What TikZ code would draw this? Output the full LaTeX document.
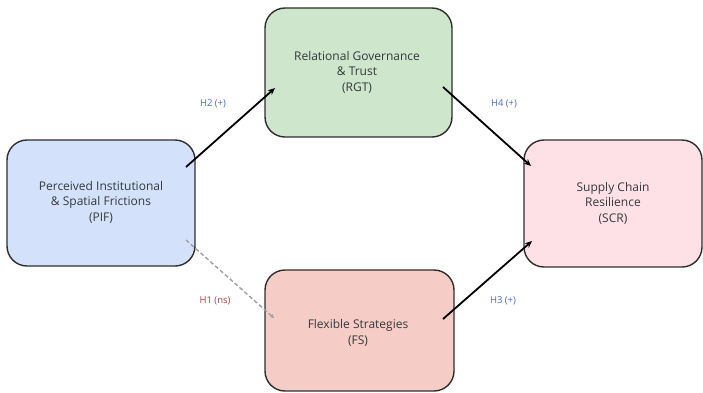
\documentclass[tikz,border=0pt]{standalone}
\usepackage{fontspec}
\setmainfont{Open Sans}
\usetikzlibrary{arrows.meta}
\definecolor{pifc}{HTML}{D3E2FA}
\definecolor{rgtc}{HTML}{CDE6CC}
\definecolor{scrc}{HTML}{FDE1E7}
\definecolor{fsc}{HTML}{F6CDC6}
\definecolor{edgec}{HTML}{2E2E2E}
\definecolor{txtc}{HTML}{35383B}
\definecolor{bluel}{HTML}{4A6DBF}
\definecolor{redl}{HTML}{B0443C}
\begin{document}
\begin{tikzpicture}[x=1pt,y=-1pt,
  box/.style={draw=edgec,line width=1.4pt,rounded corners=20pt},
  boxtext/.style={text=txtc,font=\fontsize{12}{15.5}\selectfont,align=center},
  arr/.style={-{Stealth[length=7pt,width=6pt]},line width=1.8pt,black},
  dasharr/.style={-{Stealth[length=4pt,width=4pt]},line width=1.4pt,gray!75,dash pattern=on 4pt off 2.5pt},
  lblb/.style={text=bluel,font=\fontsize{9.5}{11}\selectfont},
  lblr/.style={text=redl,font=\fontsize{9.5}{11}\selectfont}]
\useasboundingbox (0,0) rectangle (703,392);
% boxes
\draw[box,fill=pifc] (7,140) rectangle (195,266);
\node[boxtext] (pif) at (101,202) {Perceived Institutional\\\& Spatial Frictions\\(PIF)};
\draw[box,fill=rgtc] (265,8) rectangle (452,137);
\node[boxtext] (rgt) at (357,72) {Relational Governance\\\& Trust\\(RGT)};
\draw[box,fill=scrc] (524,140) rectangle (702,267);
\node[boxtext] (scr) at (613,203) {Supply Chain\\Resilience\\(SCR)};
\draw[box,fill=fsc] (265,270) rectangle (454,391);
\node[boxtext] (fs) at (358,333) {Flexible Strategies\\(FS)};
% connector endpoints
\coordinate (a1) at (186,167); \coordinate (a2) at (275,88);
\coordinate (b1) at (443,87); \coordinate (b2) at (531,166);
\coordinate (c1) at (443,319); \coordinate (c2) at (532,241);
\coordinate (d1) at (186,240); \coordinate (d2) at (274,318);
\draw[arr] (a1) -- (a2);
\draw[arr] (b1) -- (b2);
\draw[arr] (c1) -- (c2);
\draw[dasharr] (d1) -- (d2);
% labels
\node[lblb] (h2) at (213,104) {H2 (+)};
\node[lblb] (h4) at (504,104) {H4 (+)};
\node[lblb] (h3) at (503,301) {H3 (+)};
\node[lblr] (h1) at (215,301) {H1 (ns)};
\end{tikzpicture}
\end{document}
